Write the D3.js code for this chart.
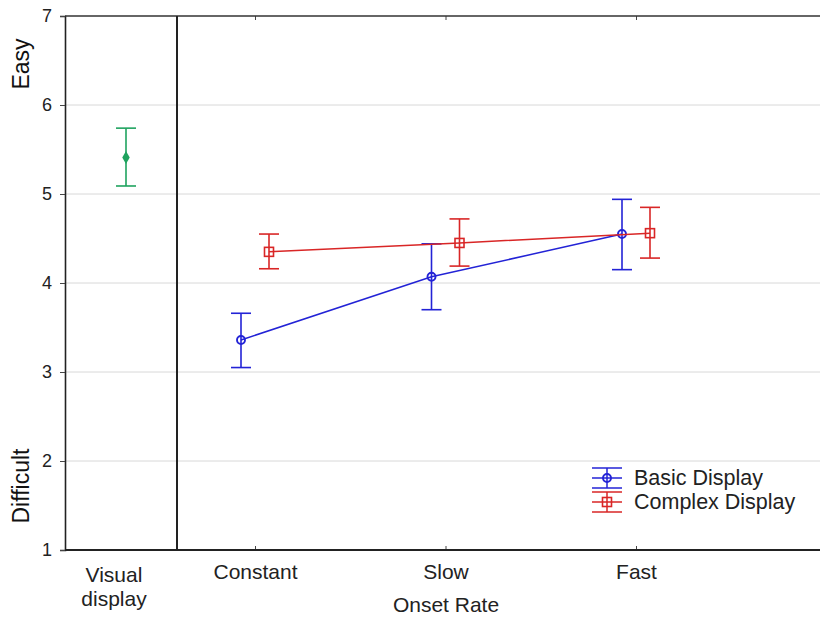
<!DOCTYPE html>
<html>
<head>
<meta charset="utf-8">
<script src="https://cdn.jsdelivr.net/npm/d3@7"></script>
<style>
  html, body { margin: 0; padding: 0; background: #fff; }
  svg { display: block; font-family: "Liberation Sans", Arial, sans-serif; }
</style>
</head>
<body>
<svg id="chart" width="820" height="618"></svg>
<script>
// Onset-rate conditions and y-axis ticks
const categories = ["Constant", "Slow", "Fast"];
const yTicks = [1, 2, 3, 4, 5, 6, 7];

// Mean ratings with lower / upper error-bar limits
const basicMean  = [3.36, 4.07, 4.55];
const basicLow   = [3.05, 3.70, 4.15];
const basicHigh  = [3.66, 4.44, 4.94];
const complexMean = [4.35, 4.45, 4.56];
const complexLow  = [4.16, 4.19, 4.28];
const complexHigh = [4.55, 4.72, 4.85];

// Visual-display-only reference condition
const visualMean = 5.41;
const visualLow  = 5.09;
const visualHigh = 5.74;

const series = [
  { name: "Basic Display",   color: "#2323d6", mean: basicMean,   low: basicLow,   high: basicHigh,   shift: -14, marker: "circle" },
  { name: "Complex Display", color: "#d92626", mean: complexMean, low: complexLow, high: complexHigh, shift: 14,  marker: "square" }
];

const svg = d3.select("#chart");
const plotLeft = 65, plotRight = 820, plotTop = 16, plotBottom = 550, divider = 177;

const y = d3.scaleLinear().domain([1, 7]).range([plotBottom, plotTop]);
const x = d3.scalePoint().domain(categories).range([255, 636]);
const xVisual = 126;

// gridlines
svg.append("g").selectAll("line")
  .data(yTicks.filter(t => t > 1 && t < 7))
  .join("line")
  .attr("x1", plotLeft).attr("x2", plotRight)
  .attr("y1", d => y(d)).attr("y2", d => y(d))
  .attr("stroke", "#d8d8d8").attr("stroke-width", 1);

// y axis
const yAxis = svg.append("g")
  .attr("transform", `translate(${plotLeft},0)`)
  .call(d3.axisLeft(y).tickValues(yTicks).tickSize(5).tickPadding(8).tickFormat(d3.format("d")));
yAxis.select(".domain").attr("stroke", "#222").attr("stroke-width", 1.6);
yAxis.selectAll(".tick line").attr("stroke", "#444");
yAxis.selectAll(".tick text").attr("font-size", 18).attr("fill", "#222")
  .attr("font-family", "Liberation Sans, Arial, sans-serif");

// bottom axis with inward ticks
const xAxis = svg.append("g")
  .attr("transform", `translate(0,${plotBottom})`)
  .call(d3.axisBottom(x).tickSize(-4).tickPadding(14));
xAxis.select(".domain").remove();
xAxis.selectAll(".tick line").attr("stroke", "#444");
xAxis.selectAll(".tick text").attr("font-size", 21).attr("fill", "#222")
  .attr("font-family", "Liberation Sans, Arial, sans-serif");

// top axis with inward ticks
const xTop = svg.append("g")
  .attr("transform", `translate(0,${plotTop})`)
  .call(d3.axisTop(x).tickSize(-4).tickFormat(""));
xTop.select(".domain").remove();
xTop.selectAll(".tick line").attr("stroke", "#444");

// frame lines
svg.append("line").attr("x1", plotLeft).attr("x2", plotRight).attr("y1", plotBottom).attr("y2", plotBottom)
  .attr("stroke", "#222").attr("stroke-width", 1.8);
svg.append("line").attr("x1", plotLeft).attr("x2", plotRight).attr("y1", plotTop).attr("y2", plotTop)
  .attr("stroke", "#333").attr("stroke-width", 1.6);
svg.append("line").attr("x1", divider).attr("x2", divider).attr("y1", plotTop).attr("y2", plotBottom)
  .attr("stroke", "#222").attr("stroke-width", 2);

// visual display label
const vis = svg.append("text").attr("x", 114).attr("y", 582)
  .attr("text-anchor", "middle").attr("font-size", 21).attr("fill", "#222");
vis.append("tspan").attr("x", 114).attr("dy", 0).text("Visual");
vis.append("tspan").attr("x", 114).attr("dy", 24).text("display");

// axis titles
svg.append("text").attr("x", 446).attr("y", 612).attr("text-anchor", "middle")
  .attr("font-size", 21).attr("fill", "#222").text("Onset Rate");
svg.append("text").attr("transform", "translate(29,64) rotate(-90)")
  .attr("text-anchor", "middle").attr("font-size", 23).attr("fill", "#111").text("Easy");
svg.append("text").attr("transform", "translate(29,486) rotate(-90)")
  .attr("text-anchor", "middle").attr("font-size", 23).attr("fill", "#111").text("Difficult");

const capHalf = 10;

function errorBar(g, cx, lo, hi, color) {
  g.append("line").attr("x1", cx).attr("x2", cx).attr("y1", y(lo)).attr("y2", y(hi))
    .attr("stroke", color).attr("stroke-width", 1.6);
  [lo, hi].forEach(v => g.append("line")
    .attr("x1", cx - capHalf).attr("x2", cx + capHalf).attr("y1", y(v)).attr("y2", y(v))
    .attr("stroke", color).attr("stroke-width", 1.6));
}

function marker(g, type, cx, cy, color) {
  if (type === "circle") {
    g.append("circle").attr("cx", cx).attr("cy", cy).attr("r", 4)
      .attr("fill", "none").attr("stroke", color).attr("stroke-width", 1.9);
  } else {
    g.append("rect").attr("x", cx - 4.5).attr("y", cy - 4.5).attr("width", 9).attr("height", 9)
      .attr("fill", "none").attr("stroke", color).attr("stroke-width", 1.6);
  }
}

// series: error bars, connecting lines, markers
series.forEach(s => {
  const g = svg.append("g");
  const pts = categories.map((c, i) => [x(c) + s.shift, y(s.mean[i])]);
  categories.forEach((c, i) => errorBar(g, x(c) + s.shift, s.low[i], s.high[i], s.color));
  g.append("path").attr("d", d3.line()(pts)).attr("fill", "none")
    .attr("stroke", s.color).attr("stroke-width", 1.5);
  pts.forEach(p => marker(g, s.marker, p[0], p[1], s.color));
});

// visual display point
const gv = svg.append("g");
errorBar(gv, xVisual, visualLow, visualHigh, "#1fa35f");
gv.append("path").attr("d", d3.symbol(d3.symbolDiamond, 48)())
  .attr("transform", `translate(${xVisual},${y(visualMean)})`).attr("fill", "#1fa35f");

// legend
const legend = svg.append("g");
series.forEach((s, i) => {
  const cy = 478 + i * 24;
  const lx = 607;
  const lg = legend.append("g");
  [-10, 0, 10].forEach(dy => lg.append("line")
    .attr("x1", lx - 15).attr("x2", lx + 15).attr("y1", cy + dy).attr("y2", cy + dy)
    .attr("stroke", s.color).attr("stroke-width", 1.5));
  lg.append("line").attr("x1", lx).attr("x2", lx).attr("y1", cy - 10).attr("y2", cy + 10)
    .attr("stroke", s.color).attr("stroke-width", 1.5);
  marker(lg, s.marker, lx, cy, s.color);
  lg.append("text").attr("x", 634).attr("y", cy + 7).attr("font-size", 21.5)
    .attr("fill", "#222").text(s.name);
});
</script>
</body>
</html>
